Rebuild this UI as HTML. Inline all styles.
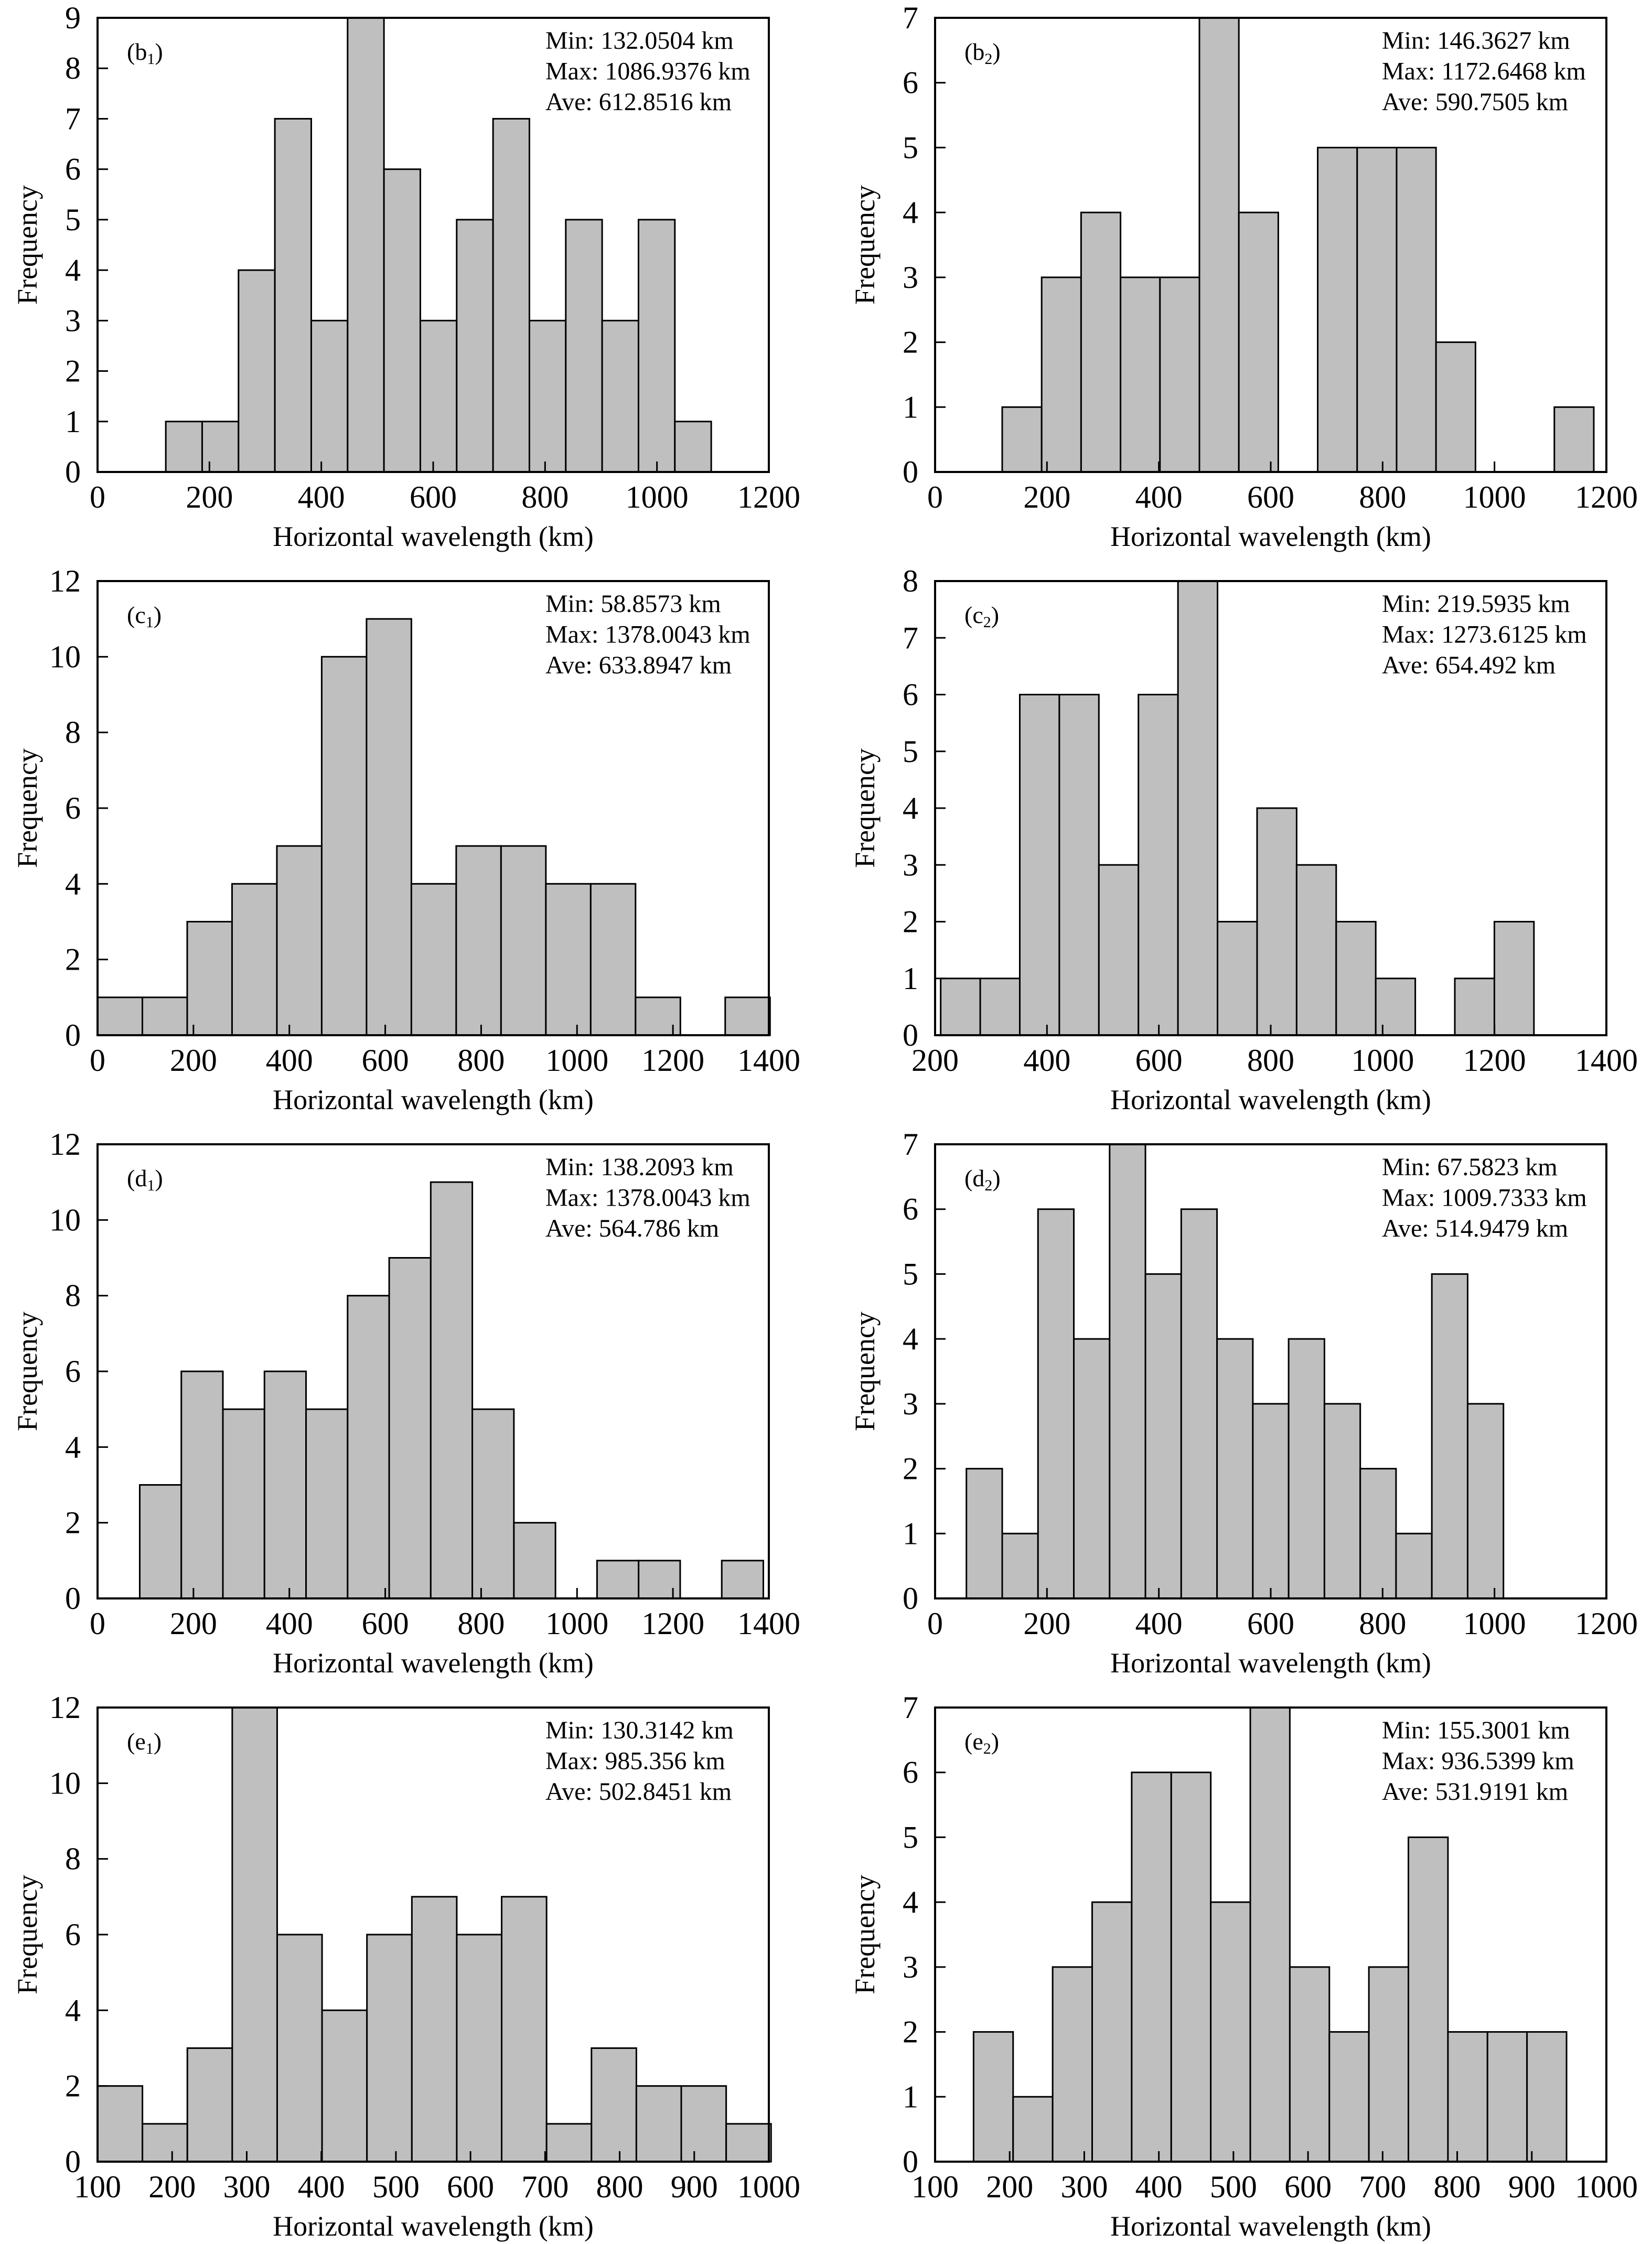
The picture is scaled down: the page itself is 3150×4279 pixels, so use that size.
<!DOCTYPE html>
<html><head><meta charset="utf-8">
<style>
html,body{margin:0;padding:0;background:#fff;}
svg{display:block;}
text{font-family:"Liberation Serif",serif;fill:#000;}
</style></head>
<body>
<svg id="fig" width="3150" height="4279" viewBox="0 0 3150 4279" xmlns="http://www.w3.org/2000/svg"></svg>
<script>
// Panel data (counts per bin)
const b1Counts=[1,1,4,7,3,9,6,3,5,7,3,5,3,5,1];
const b2Counts=[1,3,4,3,3,7,4,0,5,5,5,2,0,0,1];
const c1Counts=[1,1,3,4,5,10,11,4,5,5,4,4,1,0,1];
const c2Counts=[1,1,6,6,3,6,8,2,4,3,2,1,0,1,2];
const d1Counts=[3,6,5,6,5,8,9,11,5,2,0,1,1,0,1];
const d2Counts=[2,1,6,4,7,5,6,4,3,4,3,2,1,5,3];
const e1Counts=[2,1,3,12,6,4,6,7,6,7,1,3,2,2,1];
const e2Counts=[2,1,3,4,6,6,4,7,3,2,3,5,2,2,2];
// bin start (km) and bin width (km)
const binStarts=[122,120,0,210,88,56,100,151.6];
const binWidths=[65,70.5,93.5,70.7,86.7,64,60.2,53];
// axes
const xMins=[0,0,0,200,0,0,100,100];
const xMaxs=[1200,1200,1400,1400,1400,1200,1000,1000];
const xSteps=[200,200,200,200,200,200,100,100];
const yMaxs=[9,7,12,8,12,7,12,7];
const ySteps=[1,1,2,1,2,1,2,1];
const panelLabels=["b","b","c","c","d","d","e","e"];
const panelSubs=["1","2","1","2","1","2","1","2"];
const minTexts=["132.0504","146.3627","58.8573","219.5935","138.2093","67.5823","130.3142","155.3001"];
const maxTexts=["1086.9376","1172.6468","1378.0043","1273.6125","1378.0043","1009.7333","985.356","936.5399"];
const aveTexts=["612.8516","590.7505","633.8947","654.492","564.786","514.9479","502.8451","531.9191"];
const allCounts=[b1Counts,b2Counts,c1Counts,c2Counts,d1Counts,d2Counts,e1Counts,e2Counts];

const NS="http://www.w3.org/2000/svg";
const svg=document.getElementById('fig');
function mk(tag,attrs,parent){const e=document.createElementNS(NS,tag);for(const k in attrs)e.setAttribute(k,attrs[k]);(parent||svg).appendChild(e);return e;}

const colLeft=[186,1783], plotW=1280, rowTop=[34,1108,2182,3256], plotH=866;

for(let p=0;p<8;p++){
  const L=colLeft[p%2], T=rowTop[Math.floor(p/2)], B=T+plotH;
  const g=mk('g',{});
  
  
  const xs=v=>L+(v-xMins[p])/(xMaxs[p]-xMins[p])*plotW;
  const ys=v=>B-v/yMaxs[p]*plotH;
  const counts=allCounts[p];
  for(let i=0;i<counts.length;i++){
    if(counts[i]<=0)continue;
    const x0=xs(binStarts[p]+i*binWidths[p]), x1=xs(binStarts[p]+(i+1)*binWidths[p]);
    const r=mk('rect',{x:x0,y:ys(counts[i]),width:x1-x0,height:B-ys(counts[i]),fill:'#bfbfbf',stroke:'#000','stroke-width':3},g);
    
    
  }
  const fr=mk('rect',{x:L,y:T,width:plotW,height:plotH,fill:'none',stroke:'#000','stroke-width':4},g);
  
  
  for(let v=xMins[p];v<=xMaxs[p]+0.1;v+=xSteps[p]){
    const x=xs(v);
    mk('line',{x1:x,y1:B,x2:x,y2:B-20,stroke:'#000','stroke-width':3},g);
    const t=mk('text',{x:x,y:B+68,'font-size':60,'text-anchor':'middle'},g);
    t.textContent=v;
    
    
  }
  for(let v=0;v<=yMaxs[p]+0.01;v+=ySteps[p]){
    const y=ys(v);
    mk('line',{x1:L,y1:y,x2:L+20,y2:y,stroke:'#000','stroke-width':3},g);
    const t=mk('text',{x:L-32,y:y+20,'font-size':60,'text-anchor':'end'},g);
    t.textContent=v;
    
    
  }
  const xt=mk('text',{x:L+plotW/2,y:B+141,'font-size':54,'text-anchor':'middle'},g);
  xt.textContent='Horizontal wavelength (km)';
  
  
  const yt=mk('text',{x:0,y:0,'font-size':54,'text-anchor':'middle',transform:'translate('+(L-116)+','+(T+plotH/2)+') rotate(-90)'},g);
  yt.textContent='Frequency';
  
  
  const pl=mk('text',{x:L+56,y:T+80,'font-size':46},g);
  
  
  pl.appendChild(document.createTextNode('('+panelLabels[p]));
  const sub=mk('tspan',{'font-size':30,dy:8},pl); sub.textContent=panelSubs[p];
  const cl=mk('tspan',{dy:-8},pl); cl.textContent=')';
  const lines=['Min: '+minTexts[p]+' km','Max: '+maxTexts[p]+' km','Ave: '+aveTexts[p]+' km'];
  const sx = p%2===0 ? L+854 : L+852;
  lines.forEach((s,i)=>{
    const t=mk('text',{x:sx,y:T+59+i*58.5,'font-size':48},g);
    t.textContent=s;
    
    
  });
}
</script>
</body></html>
